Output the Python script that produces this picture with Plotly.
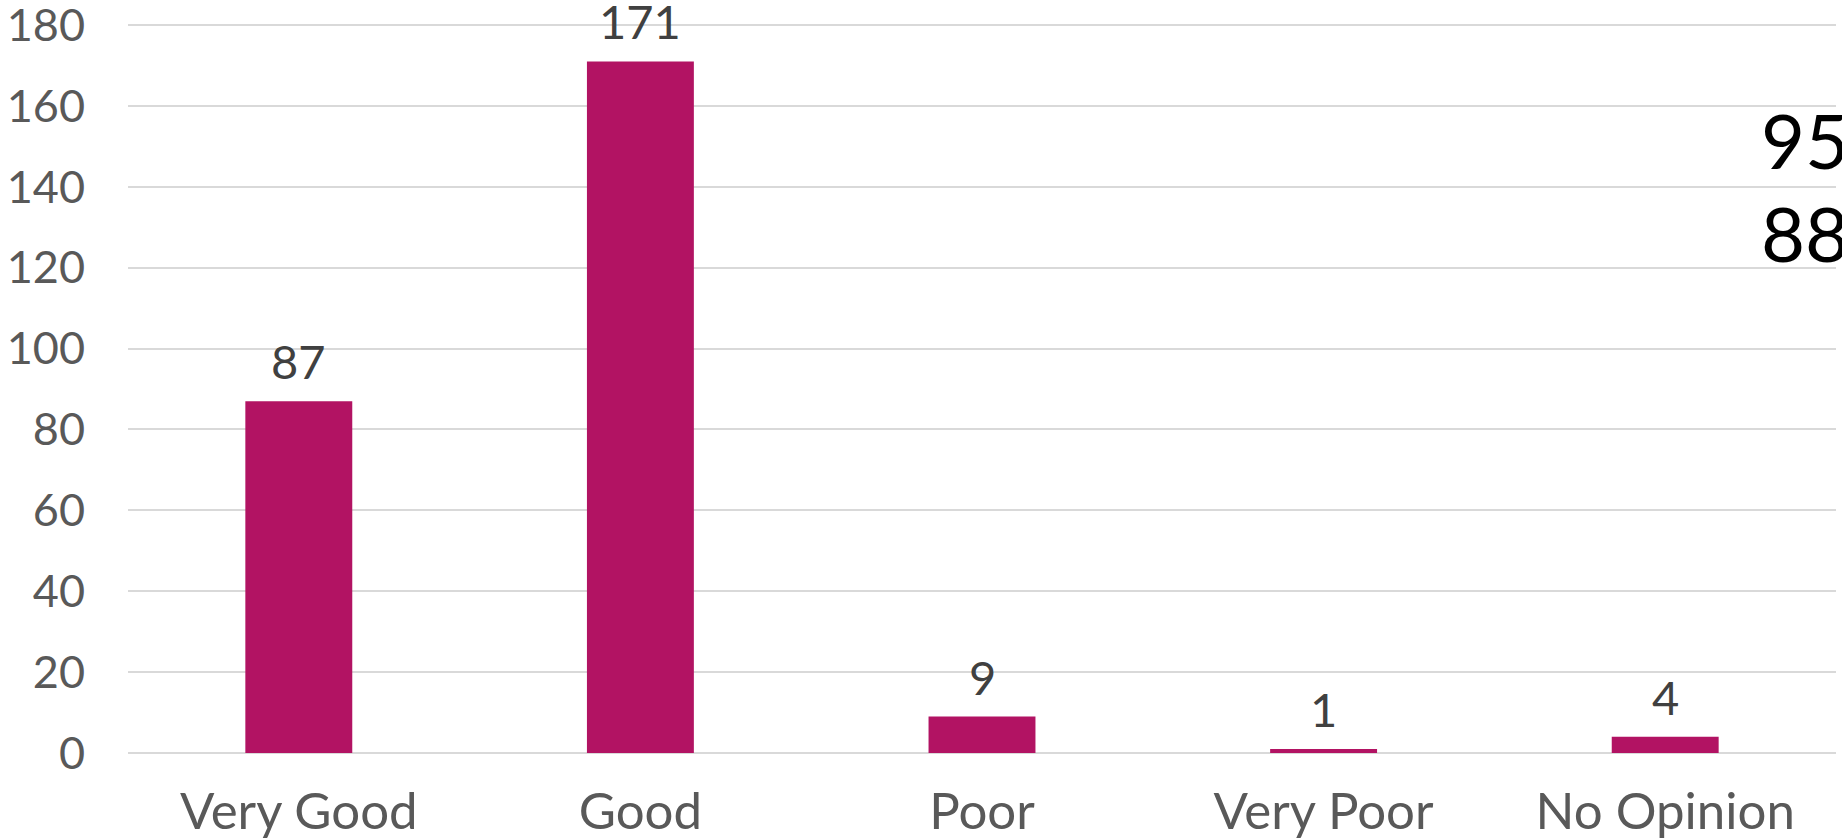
import plotly.graph_objects as go

# Survey responses per rating
categories = ["Very Good", "Good", "Poor", "Very Poor", "No Opinion"]
counts = [87, 171, 9, 1, 4]
y_ticks = [0, 20, 40, 60, 80, 100, 120, 140, 160, 180]
side_notes = ["95%", "88%"]

BAR_COLOR = "#B21363"
AXIS_TEXT = "#595959"
LABEL_TEXT = "#404040"
GRID = "#D9D9D9"
FONT = "Lato, sans-serif"

fig = go.Figure(
    go.Bar(
        x=categories,
        y=counts,
        marker=dict(color=BAR_COLOR, line=dict(width=0)),
        hoverinfo="x+y",
    )
)

# value labels above each bar
for cat, val in zip(categories, counts):
    fig.add_annotation(
        x=cat, y=val, xref="x", yref="y",
        text=str(val), showarrow=False,
        yanchor="bottom", yshift=10,
        font=dict(family=FONT, size=47, color=LABEL_TEXT),
    )

# large side figures at the right edge
for note, ypos in zip(side_notes, [0.841, 0.713]):
    fig.add_annotation(
        x=0.955, y=ypos, xref="paper", yref="paper",
        text=note, showarrow=False,
        xanchor="left", yanchor="middle",
        font=dict(family=FONT, size=76, color="#000000"),
    )

fig.update_layout(
    width=1842, height=840,
    margin=dict(l=128, r=6, t=23, b=87),
    paper_bgcolor="white", plot_bgcolor="white",
    bargap=0.687,
    showlegend=False,
    font=dict(family=FONT, color=AXIS_TEXT),
)
fig.update_xaxes(
    automargin=False,
    showgrid=False, showline=False, zeroline=False,
    ticks="outside", ticklen=14, tickcolor="rgba(0,0,0,0)",
    tickfont=dict(family=FONT, size=51, color=AXIS_TEXT),
    ticklabeloverflow="allow",
)
fig.update_yaxes(
    automargin=False,
    range=[0, 180.5], tickvals=y_ticks,
    showgrid=True, gridcolor=GRID, gridwidth=2,
    zeroline=True, zerolinecolor=GRID, zerolinewidth=2,
    showline=False,
    ticks="outside", ticklen=33, tickcolor="rgba(0,0,0,0)",
    tickfont=dict(family=FONT, size=45, color=AXIS_TEXT),
    ticklabeloverflow="allow",
)

fig.write_html("out.html")
